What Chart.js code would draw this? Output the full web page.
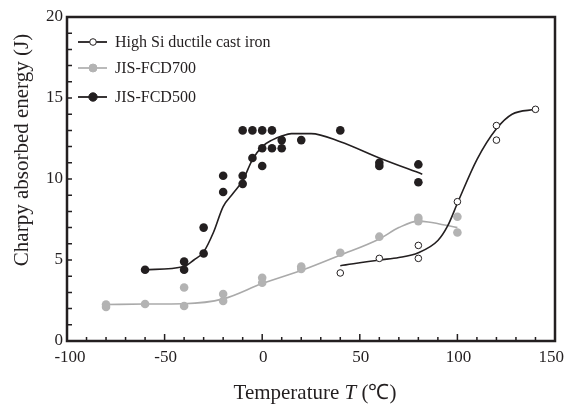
<!DOCTYPE html>
<html>
<head>
<meta charset="utf-8">
<script src="https://cdn.jsdelivr.net/npm/chart.js@4.4.1/dist/chart.umd.min.js"></script>
<style>
  html, body { margin: 0; padding: 0; background: #fff; }
  #wrap { width: 565px; height: 408px; }
</style>
</head>
<body>
<div id="wrap"><canvas id="charpyChart" width="565" height="408"></canvas></div>
<script>
// measured points
const highSiT = [40, 60, 80, 80, 100, 120, 120, 140];
const highSiE = [4.2, 5.1, 5.9, 5.1, 8.6, 13.3, 12.4, 14.3];

const fcd700T = [-80, -80, -60, -40, -40, -20, -20, 0, 0, 20, 20, 40, 60, 80, 80, 100, 100];
const fcd700E = [2.1, 2.25, 2.28, 3.3, 2.16, 2.9, 2.47, 3.9, 3.6, 4.6, 4.45, 5.45, 6.44, 7.6, 7.4, 7.67, 6.7];

const fcd500T = [-60, -40, -40, -30, -30, -20, -20, -10, -10, -10, -5, -5, 0, 0, 0, 5, 5, 10, 10, 20, 40, 60, 60, 80, 80];
const fcd500E = [4.4, 4.9, 4.4, 7.0, 5.4, 10.2, 9.2, 13.0, 10.2, 9.7, 13.0, 11.3, 13.0, 11.9, 10.8, 13.0, 11.9, 12.4, 11.9, 12.4, 13.0, 11.0, 10.8, 10.9, 9.8];

// fitted curves
const highSiFitT = [40, 60, 70, 80, 90, 95, 100, 110, 120, 128, 140];
const highSiFitE = [4.65, 5.0, 5.15, 5.45, 6.2, 7.1, 8.5, 11.2, 13.1, 14.0, 14.3];

const fcd700FitT = [-80, -60, -40, -20, 0, 20, 40, 60, 70, 80, 85, 100];
const fcd700FitE = [2.25, 2.28, 2.3, 2.6, 3.55, 4.35, 5.3, 6.3, 7.0, 7.4, 7.35, 7.0];

const fcd500FitT = [-60, -40, -35, -30, -25, -20, -15, -10, -5, 0, 5, 10, 15, 25, 40, 60, 82];
const fcd500FitE = [4.4, 4.6, 5.0, 5.5, 6.7, 8.3, 9.1, 9.9, 11.2, 12.0, 12.4, 12.65, 12.8, 12.8, 12.3, 11.3, 10.3];

const xTickLabels = [-100, -50, 0, 50, 100, 150];
const yTickLabels = [0, 5, 10, 15, 20];
const legendNames = ['High Si ductile cast iron', 'JIS-FCD700', 'JIS-FCD500'];

const BLACK = '#231f20';
const GRAY = '#b3b3b3';
const SERIF = '"Liberation Serif", "Times New Roman", serif';

const pts = (xs, ys) => xs.map((x, i) => ({ x: x, y: ys[i] }));

// frame, inward ticks, tick labels, axis titles, legend
const decor = {
  id: 'decor',
  afterDraw(chart) {
    const c = chart.ctx;
    const a = chart.chartArea;
    const xs = chart.scales.x;
    const ys = chart.scales.y;
    c.save();
    c.strokeStyle = BLACK;
    c.lineWidth = 1.5;
    // ticks
    c.beginPath();
    for (let v = -100; v <= 150; v += 10) {
      const px = xs.getPixelForValue(v);
      const len = v % 50 === 0 ? 7 : 4;
      c.moveTo(px, a.bottom);
      c.lineTo(px, a.bottom - len);
    }
    for (let v = 0; v <= 20; v += 1) {
      const py = ys.getPixelForValue(v);
      c.moveTo(a.left, py);
      c.lineTo(a.left + 5, py);
    }
    c.stroke();
    // frame
    c.lineWidth = 2.5;
    c.strokeRect(a.left, a.top, a.right - a.left, a.bottom - a.top);

    c.fillStyle = BLACK;
    c.font = '17px ' + SERIF;
    c.textAlign = 'center';
    c.textBaseline = 'alphabetic';
    xTickLabels.forEach(v => {
      const s = String(v);
      const w = c.measureText(s).width;
      let px = xs.getPixelForValue(v) + 1;
      if (px + w / 2 > 564) px = 564 - w / 2;
      if (v === xTickLabels[0]) px += 2;
      c.fillText(s, px, a.bottom + 21);
    });
    c.textAlign = 'right';
    c.textBaseline = 'middle';
    yTickLabels.forEach(v => {
      c.fillText(String(v), a.left - 4, ys.getPixelForValue(v));
    });

    // x title with italic T
    c.textBaseline = 'alphabetic';
    c.textAlign = 'left';
    const p1 = 'Temperature ', p2 = 'T', p3 = ' (℃)';
    const fN = '21px ' + SERIF, fI = 'italic 21px ' + SERIF;
    c.font = fN; const w1 = c.measureText(p1).width, w3 = c.measureText(p3).width;
    c.font = fI; const w2 = c.measureText(p2).width;
    let tx = 315 - (w1 + w2 + w3) / 2;
    const ty = 399;
    c.font = fN; c.fillText(p1, tx, ty); tx += w1;
    c.font = fI; c.fillText(p2, tx, ty); tx += w2;
    c.font = fN; c.fillText(p3, tx, ty);

    // y title
    c.save();
    c.translate(28, 150);
    c.rotate(-Math.PI / 2);
    c.textAlign = 'center';
    c.textBaseline = 'alphabetic';
    c.font = '21px ' + SERIF;
    c.fillText('Charpy absorbed energy (J)', 0, 0);
    c.restore();

    // legend
    const rows = [
      { y: 42, line: BLACK, fill: '#ffffff', stroke: BLACK, r: 3.3 },
      { y: 68, line: GRAY, fill: GRAY, stroke: GRAY, r: 4 },
      { y: 97, line: BLACK, fill: BLACK, stroke: BLACK, r: 4.2 }
    ];
    rows.forEach((r, i) => {
      c.strokeStyle = r.line;
      c.lineWidth = 1.8;
      c.beginPath();
      c.moveTo(78, r.y);
      c.lineTo(107, r.y);
      c.stroke();
      c.beginPath();
      c.arc(93, r.y, r.r, 0, Math.PI * 2);
      c.fillStyle = r.fill;
      c.fill();
      c.lineWidth = 1;
      c.strokeStyle = r.stroke;
      c.stroke();
      c.fillStyle = BLACK;
      c.font = '16px ' + SERIF;
      c.textAlign = 'left';
      c.textBaseline = 'middle';
      c.fillText(legendNames[i], 115, r.y + 1);
    });
    c.restore();
  }
};

const ctx = document.getElementById('charpyChart').getContext('2d');
new Chart(ctx, {
  type: 'scatter',
  data: {
    datasets: [
      {
        label: legendNames[0],
        data: pts(highSiT, highSiE),
        pointRadius: 3.3,
        pointBackgroundColor: '#ffffff',
        pointBorderColor: BLACK,
        pointBorderWidth: 1,
        order: 1,
      },
      {
        label: legendNames[1],
        data: pts(fcd700T, fcd700E),
        pointRadius: 4.3,
        pointBackgroundColor: GRAY,
        pointBorderColor: GRAY,
        pointBorderWidth: 0,
        order: 1,
      },
      {
        label: legendNames[2],
        data: pts(fcd500T, fcd500E),
        pointRadius: 4.3,
        pointBackgroundColor: BLACK,
        pointBorderColor: BLACK,
        pointBorderWidth: 0,
        order: 1,
      },
      {
        label: 'fit1',
        data: pts(highSiFitT, highSiFitE),
        showLine: true,
        pointRadius: 0,
        borderColor: BLACK,
        borderWidth: 1.6,
        cubicInterpolationMode: 'monotone',
        order: 2,
      },
      {
        label: 'fit2',
        data: pts(fcd700FitT, fcd700FitE),
        showLine: true,
        pointRadius: 0,
        borderColor: '#aaaaaa',
        borderWidth: 1.6,
        cubicInterpolationMode: 'monotone',
        order: 2,
      },
      {
        label: 'fit3',
        data: pts(fcd500FitT, fcd500FitE),
        showLine: true,
        pointRadius: 0,
        borderColor: BLACK,
        borderWidth: 1.6,
        cubicInterpolationMode: 'monotone',
        order: 2,
      },
    ],
  },
  options: {
    responsive: false,
    animation: false,
    layout: { padding: { left: 67, top: 17, right: 10, bottom: 67 } },
    plugins: {
      legend: { display: false },
      tooltip: { enabled: false },
    },
    scales: {
      x: { type: 'linear', min: -100, max: 150, display: false },
      y: { type: 'linear', min: 0, max: 20, display: false },
    },
  },
  plugins: [decor],
});
</script>
</body>
</html>
